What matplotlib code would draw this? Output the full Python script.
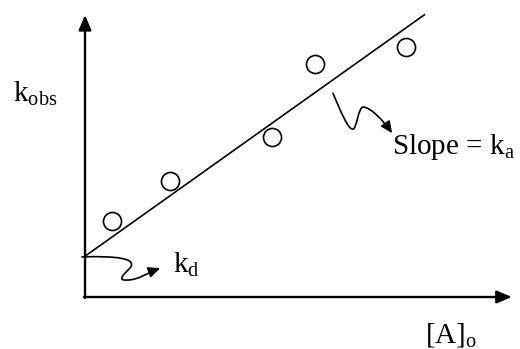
import matplotlib
matplotlib.use("Agg")
import matplotlib.pyplot as plt
import numpy as np
from matplotlib.path import Path
from matplotlib.patches import FancyArrowPatch

plt.rcParams['font.family'] = ['Liberation Serif', 'DejaVu Serif']
plt.rcParams['mathtext.fontset'] = 'custom'
plt.rcParams['mathtext.rm'] = 'Liberation Serif'
plt.rcParams['mathtext.it'] = 'Liberation Serif:italic'
plt.rcParams['mathtext.bf'] = 'Liberation Serif:bold'

# Data (arbitrary units)
conc = [0.8, 2.5, 5.5, 6.75, 9.45]
kobs = [2.25, 3.4, 4.7, 6.85, 7.35]
kd = 1.2          # intercept
ka = 0.712        # slope
line_x = [0.0, 10.0]

fig = plt.figure(figsize=(5.2, 3.49), dpi=100)
ax = fig.add_axes([0, 0, 1, 1])
ax.set_xlim(-2.5, 12.79)
ax.set_ylim(-1.53, 8.74)
ax.axis('off')

# axes with arrows
ax.annotate('', xy=(0, 8.3), xytext=(0, -0.03),
            arrowprops=dict(arrowstyle='-|>,head_length=0.9,head_width=0.38',
                            lw=1.7, color='black', shrinkA=0, shrinkB=0))
ax.annotate('', xy=(12.55, 0), xytext=(-0.03, 0),
            arrowprops=dict(arrowstyle='-|>,head_length=0.9,head_width=0.38',
                            lw=1.7, color='black', shrinkA=0, shrinkB=0))

# fit line
lx = np.array(line_x)
ax.plot(lx, kd + ka * lx, color='black', lw=1.2, solid_capstyle='butt')

# data points
ax.plot(conc, kobs, linestyle='none', marker='o', markersize=13,
        markerfacecolor='none', markeredgecolor='black', markeredgewidth=1.2)

# squiggle arrow for slope
verts1 = [(7.29, 6.0), (7.5, 5.5), (7.74, 4.91), (7.88, 4.94),
          (8.0, 4.97), (8.03, 5.59), (8.18, 5.59),
          (8.38, 5.59), (8.76, 5.21), (9.03, 4.82)]
codes1 = [Path.MOVETO] + [Path.CURVE4] * 9
p1 = FancyArrowPatch(path=Path(verts1, codes1),
                     arrowstyle='-|>,head_length=7,head_width=3.2',
                     color='black', lw=1.2)
ax.add_patch(p1)

# squiggle arrow for intercept
verts2 = [(-0.09, 1.18), (0.88, 1.21), (1.56, 1.15), (1.32, 0.85),
          (1.15, 0.68), (0.91, 0.47), (1.26, 0.50),
          (1.56, 0.50), (1.91, 0.74), (2.21, 0.85)]
codes2 = [Path.MOVETO] + [Path.CURVE4] * 9
p2 = FancyArrowPatch(path=Path(verts2, codes2),
                     arrowstyle='-|>,head_length=7,head_width=3.2',
                     color='black', lw=1.2)
ax.add_patch(p2)

fs = 21
ax.text(-2.12, 5.74, r'k$_{\mathrm{obs}}$', fontsize=fs, ha='left', va='baseline')
ax.text(9.03, 4.21, r'Slope = k$_{\mathrm{a}}$', fontsize=fs, ha='left', va='baseline')
ax.text(2.59, 0.71, r'k$_{\mathrm{d}}$', fontsize=fs, ha='left', va='baseline')
ax.text(10.0, -1.33, r'[A]$_{\mathrm{o}}$', fontsize=fs, ha='left', va='baseline')

fig.savefig('out.png', dpi=100)
